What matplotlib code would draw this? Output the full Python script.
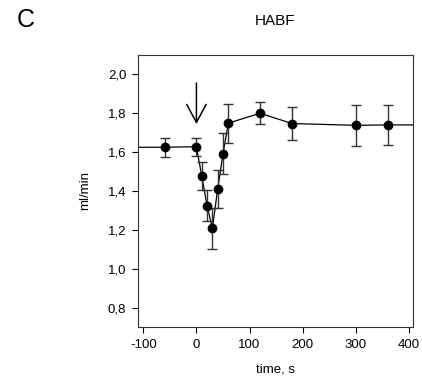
import matplotlib
matplotlib.use('Agg')
import matplotlib.pyplot as plt
from matplotlib.ticker import FuncFormatter

plt.rcParams['font.family'] = ['Liberation Sans', 'DejaVu Sans']
plt.rcParams['axes.unicode_minus'] = False

# time points (s); first and last run off the axis edges
time = [-130, -60, 0, 10, 20, 30, 40, 50, 60, 120, 180, 300, 360, 430]
habf = [1.625, 1.625, 1.628, 1.478, 1.325, 1.207, 1.41, 1.591, 1.749, 1.80, 1.747, 1.738, 1.74, 1.74]
err = [0, 0.048, 0.047, 0.072, 0.082, 0.106, 0.10, 0.105, 0.10, 0.056, 0.087, 0.105, 0.105, 0]

fig = plt.figure(figsize=(4.22, 3.87), dpi=100)
ax = fig.add_axes([0.327, 0.155, 0.652, 0.703])

ax.plot(time, habf, color='black', lw=0.9, zorder=2)
ax.errorbar(time[1:-1], habf[1:-1], yerr=err[1:-1], fmt='o', color='black',
            ecolor='#333333', elinewidth=1.0, capsize=3.6, capthick=1.0,
            markersize=6, zorder=3)

# stimulus arrow at t=0
ax.annotate('', xy=(0, 1.73), xytext=(0, 1.97),
            arrowprops=dict(arrowstyle='->, head_length=0.65, head_width=0.35',
                            mutation_scale=20, lw=1.1, color='black'))

ax.set_xlim(-110, 408)
ax.set_ylim(0.7, 2.1)
ax.set_xticks([-100, 0, 100, 200, 300, 400])
ax.set_yticks([0.8, 1.0, 1.2, 1.4, 1.6, 1.8, 2.0])
ax.yaxis.set_major_formatter(FuncFormatter(lambda v, p: ('%.1f' % v).replace('.', ',')))
ax.tick_params(direction='out', length=4.5, width=0.8, labelsize=9.5, pad=4, top=False, right=False)
for s in ax.spines.values():
    s.set_linewidth(0.8)
    s.set_color('#333333')

ax.set_xlabel('time, s', fontsize=9.5, labelpad=9)
ax.set_ylabel('ml/min', fontsize=9.5, labelpad=12)

fig.text(0.652, 0.945, 'HABF', fontsize=11, ha='center', va='center')
fig.text(0.06, 0.948, 'C', fontsize=18, ha='center', va='center')

fig.savefig('out.png', dpi=100)
